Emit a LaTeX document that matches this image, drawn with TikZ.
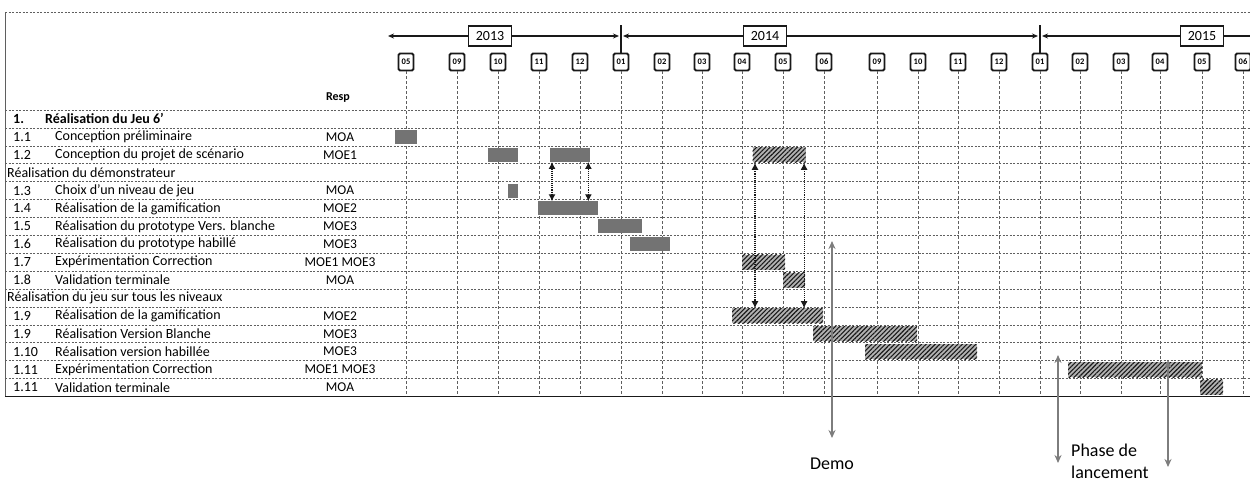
\documentclass[tikz,border=0pt]{standalone}
\usepackage{fontspec}
\setmainfont{Carlito}
\usetikzlibrary{arrows.meta,positioning,patterns.meta,calc}
\definecolor{ganttInk}{RGB}{25,25,25}
\definecolor{ganttGrid}{RGB}{95,95,95}
\definecolor{ganttShade}{RGB}{115,115,115}
\definecolor{ganttNote}{RGB}{125,125,125}
\tikzset{
  monthbox/.style={
    draw=ganttInk, line width=1.8pt, rounded corners=1.5pt, fill=white,
    minimum width=15pt, minimum height=17pt, inner sep=0pt, font=\fontsize{8.5}{8.5}\selectfont\bfseries},
  yearbox/.style={
    draw=ganttInk, line width=1.6pt, fill=white,
    minimum width=43pt, minimum height=20pt, inner sep=0pt, font=\fontsize{14}{14}\selectfont},
  yearline/.style={{Stealth[length=6pt,width=5pt]}-{Stealth[length=6pt,width=5pt]}, line width=2.2pt, draw=ganttInk},
  yearsep/.style={line width=2.8pt, draw=ganttInk},
  vgrid/.style={densely dashed, line width=0.7pt, draw=ganttGrid},
  hgrid/.style={dash pattern=on 2pt off 1.5pt, line width=0.6pt, draw=ganttGrid},
  headtext/.style={anchor=west, inner sep=0pt, font=\fontsize{14}{14}\selectfont\bfseries},
  tasktext/.style={anchor=west, inner sep=0pt, font=\fontsize{14}{14}\selectfont},
  resptext/.style={inner sep=0pt, font=\fontsize{13.5}{14}\selectfont},
  greybar/.style={anchor=west, fill=ganttShade, minimum height=14pt, inner sep=0pt},
  hatchbar/.style={
    anchor=west, preaction={fill=black!30},
    pattern={Lines[angle=45, distance=3.2pt, line width=1.1pt]},
    pattern color=ganttInk, minimum height=15pt, inner sep=0pt},
  linkarrow/.style={{Latex[length=7pt,width=7pt]}-{Latex[length=7pt,width=7pt]}, densely dotted, line width=1.1pt, draw=ganttInk},
  milestone/.style={{Stealth[length=8pt,width=7pt]}-{Stealth[length=8pt,width=7pt]}, line width=2.2pt, draw=ganttNote},
  notetext/.style={inner sep=0pt, align=left, font=\fontsize{18}{22}\selectfont}
}

\begin{document}
\begin{tikzpicture}[x=1pt,y=-1pt]
  \useasboundingbox (0,0) rectangle (1250,483);
  \clip (0,0) rectangle (1250,483);

  \coordinate (tblbot) at (0,396.4);
  \draw[hgrid] (5,12) -- (1250,12);
  \draw[line width=0.8pt, draw=ganttGrid] (5,12) -- (5,396.4);
  \foreach \r in {0,...,15}
    \draw[hgrid] (5,{110+17.9*\r}) -- (1250,{110+17.9*\r});
  \draw[line width=1.6pt, draw=ganttInk] (5,396.4) -- (1250,396.4);

  \foreach \x/\lbl [count=\i] in {406/05,457/09,498/10,539/11,580/12,621/01,662/02,702/03,742/04,783/05,824/06,
                                  877/09,918/10,958/11,999/12,1040/01,1080/02,1121/03,1160/04,1202/05,1243/06}
  {
    \node[monthbox] (m\i) at (\x,62) {\lbl};
    \draw[vgrid] (m\i.south) -- (m\i.south |- tblbot);
  }

  \coordinate (tlstart) at (388,36);
  \coordinate (sepA) at (621,36);
  \coordinate (sepB) at (1040,36);
  \coordinate (tlend) at (1262,36);
  \draw[yearline] (tlstart) -- ([xshift=-2pt]sepA);
  \draw[yearline] ([xshift=2pt]sepA) -- ([xshift=-2pt]sepB);
  \draw[yearline] ([xshift=2pt]sepB) -- (tlend);
  \draw[yearsep] ([yshift=11pt]sepA) -- (m6.north);
  \draw[yearsep] ([yshift=11pt]sepB) -- (m16.north);
  \node[yearbox] (y2013) at (490,36) {2013};
  \node[yearbox] (y2014) at (765,36) {2014};
  \node[yearbox] (y2015) at (1202,36) {2015};

  \node[inner sep=0pt, font=\fontsize{12}{12}\selectfont\bfseries] (resphead) at (338,98) {Resp};
  \node[headtext] (num0) at (13,118.95) {1.};
  \node[headtext] (task0) at (45,118.95) {Réalisation du Jeu 6'};
  \node[tasktext] (sec3) at (7,{110+17.9*3.5}) {Réalisation du démonstrateur};
  \node[tasktext] (sec10) at (7,{110+17.9*10.5}) {Réalisation du jeu sur tous les niveaux};
  \foreach \r/\num/\task/\resp in {
      1/1.1/Conception préliminaire/MOA,
      2/1.2/Conception du projet de scénario/MOE1,
      4/1.3/Choix d'un niveau de jeu/MOA,
      5/1.4/Réalisation de la gamification/MOE2,
      6/1.5/Réalisation du prototype Vers. blanche/MOE3,
      7/1.6/Réalisation du prototype habillé/MOE3,
      8/1.7/Expérimentation Correction/MOE1 MOE3,
      9/1.8/Validation terminale/MOA,
      11/1.9/Réalisation de la gamification/MOE2,
      12/1.9/Réalisation Version Blanche/MOE3,
      13/1.10/Réalisation version habillée/MOE3,
      14/1.11/Expérimentation Correction/MOE1 MOE3,
      15/1.11/Validation terminale/MOA}
  {
    \node[tasktext] (num\r) at (13,{110+17.9*(\r+0.5)}) {\num};
    \node[tasktext] (task\r) at (55,{110+17.9*(\r+0.5)}) {\task};
    \node[resptext] (resp\r) at (340,{110+17.9*(\r+0.5)}) {\resp};
  }

  \foreach \nm/\r/\xa/\xb in {b11/1/395/417, b12a/2/488/518, b12b/2/550/590, b13/4/508/518,
                              b14/5/538/598, b15/6/598/642, b16/7/630/670}
    \node[greybar, minimum width={\xb-\xa}] (\nm) at (\xa,{110+17.9*(\r+0.5)}) {};
  \foreach \nm/\r/\xa/\xb in {b12c/2/752/805, b17/8/742/785, b18/9/783/805, b19/11/732/823,
                              b19b/12/813/917, b110/13/865/977, b111/14/1068/1202, b111b/15/1200/1223}
    \node[hatchbar, minimum width={\xb-\xa}] (\nm) at (\xa,{110+17.9*(\r+0.5)}) {};

  \coordinate (linkA) at ([xshift=2pt]b12b.south west);
  \coordinate (linkB) at ([xshift=-2pt]b12b.south east);
  \coordinate (linkC) at ([xshift=3pt]b12c.south west);
  \coordinate (linkD) at ([xshift=-2pt]b12c.south east);
  \draw[linkarrow] (linkA) -- (linkA |- b14.north);
  \draw[linkarrow] (linkB) -- (linkB |- b14.north);
  \draw[linkarrow] (linkC) -- (linkC |- b19.north);
  \draw[linkarrow] (linkD) -- (linkD |- b19.north);

  \coordinate (demotop) at (832,241);
  \coordinate (demobot) at (832,438);
  \draw[milestone] (demotop) -- (demobot);
  \node[notetext] (demo) at (832,464) {Demo};

  \coordinate (lanctopA) at (1058,355);
  \coordinate (lancbotA) at (1058,463);
  \coordinate (lanctopB) at (1168,360);
  \coordinate (lancbotB) at (1168,467);
  \draw[milestone] (lanctopA) -- (lancbotA);
  \draw[milestone] (lanctopB) -- (lancbotB);
  \node[notetext, anchor=west] (phase) at (1071,461) {Phase de\\lancement};
\end{tikzpicture}
\end{document}
